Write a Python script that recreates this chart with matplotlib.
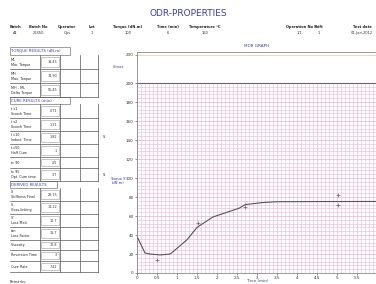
import matplotlib
matplotlib.use("Agg")
import matplotlib.pyplot as plt
from matplotlib.patches import Rectangle
import numpy as np

# ---------------- data ----------------
curve_time = [0.02, 0.2, 0.33, 0.58, 0.83, 1.0, 1.25, 1.5, 1.9, 2.54, 2.71, 3.1, 3.47, 4.5, 6.0]
curve_torque = [36.8, 21.0, 20.0, 19.0, 20.0, 26.0, 35.0, 48.0, 59.0, 68.0, 72.0, 74.0, 75.0, 75.2, 75.3]
point_time = [0.5, 1.53, 2.71, 5.03, 5.03]
point_torque = [13.7, 52.6, 69.5, 82.0, 71.6]
x_ticks = [0, 0.5, 1, 1.5, 2, 2.5, 3, 3.5, 4, 4.5, 5, 5.5]
x_tick_labels = ["0", "0.5", "1", "1.5", "2", "2.5", "3", "3.5", "4", "4.5", "5", "5.5"]
y_ticks = [0, 20, 40, 60, 80, 100, 120, 140, 160, 180, 200, 230]
limit_upper = 200
limit_top = 229.5

header_labels = ["Batch", "Batch No", "Operator", "Lot", "Torque (dN.m)", "Time (min)",
                 "Temperature °C", "Operation No", "Shift", "Test date"]
header_values = ["A1", "22450", "Ops", "1", "100", "6", "160", "1/1", "1", "01-Jan-2012"]
header_x = [15, 38, 67, 92, 128, 168, 205, 300, 319, 362]

torque_labels = [("ML", "Min. Torque"), ("MH", "Max. Torque"), ("MH - ML", "Delta Torque")]
torque_values = ["19.45", "74.90", "55.45"]
cure_labels = [("t s1", "Scorch Time"), ("t s2", "Scorch Time"), ("t c10", "Induct. Time"),
               ("t c50", "Half Cure"), ("tc 90", ""), ("tc 95", "Opt. Cure time")]
cure_values = ["0.71", "1.31", "1.82", "1", "2.5", "3.7"]
derived_labels = [("S'", "Stiffness Final"), ("S'", "Cross-linking"), ("S''", "Loss Mod."),
                  ("tan", "Loss Factor"), ("Viscosity", ""), ("Reversion Time", ""), ("Cure Rate", "")]
derived_values = ["23.15", "14.22", "10.7", "18.7", "12.8", "3", "7.42"]

BLUE = "#3a3ab0"
W, H = 376, 284
fig = plt.figure(figsize=(W / 100, H / 100), dpi=100)

ov = fig.add_axes([0, 0, 1, 1])
ov.set_xlim(0, W)
ov.set_ylim(H, 0)
ov.axis("off")

ov.text(188, 14, "ODR-PROPERTIES", color=BLUE, fontsize=6.5, ha="center", va="center")
for lab, val, x in zip(header_labels, header_values, header_x):
    ov.text(x, 27, lab, fontsize=2.6, ha="center", va="center", color="#222", fontweight="bold")
    ov.text(x, 33, val, fontsize=2.6, ha="center", va="center", color="#333")

col_lines = [40, 60, 80, 98]
tx0 = 10

def section(y0, y1, title, bar_to=70):
    ov.add_patch(Rectangle((tx0, y0), bar_to - tx0, y1 - y0, fill=False, ec="#777", lw=0.5))
    ov.text(tx0 + 1, (y0 + y1) / 2, title, fontsize=2.8, color=BLUE, va="center", ha="left")

def rows(ys, labels, values):
    for i in range(len(labels)):
        a, b = ys[i], ys[i + 1]
        ov.plot([tx0, col_lines[-1]], [b, b], color="#555", lw=0.5)
        l1, l2 = labels[i]
        if l2:
            ov.text(tx0 + 1, a + (b - a) * 0.33, l1, fontsize=2.4, va="center", color="#222")
            ov.text(tx0 + 1, a + (b - a) * 0.7, l2, fontsize=2.4, va="center", color="#222")
        else:
            ov.text(tx0 + 1, (a + b) / 2, l1, fontsize=2.4, va="center", color="#222")
        ov.add_patch(Rectangle((col_lines[0] + 1, a + 2), 18, b - a - 4, fill=False, ec="#999", lw=0.4))
        ov.text(col_lines[1] - 3, (a + b) / 2, values[i], fontsize=2.4, ha="right", va="center", color="#333")
    for x in col_lines:
        ov.plot([x, x], [ys[0], ys[-1]], color="#555", lw=0.5)

section(47, 55, "TORQUE RESULTS (dN.m)")
rows([55, 69, 83, 97], torque_labels, torque_values)
section(97, 104, "CURE RESULTS (min)")
rows([104, 118, 131, 144, 157, 168, 181], cure_labels, cure_values)
section(181, 188, "DERIVED RESULTS", bar_to=57)
rows([188, 201, 214, 227, 240, 250, 261, 272], derived_labels, derived_values)
ov.text(10, 282, "Remarks:", fontsize=2.6, color="#333", va="center")
ov.text(103, 137, "S'", fontsize=2.6, color="#222", va="center")
ov.text(103, 175, "S'", fontsize=2.6, color="#222", va="center")
ov.text(118, 67, "S'max", fontsize=2.6, color=BLUE, va="center", ha="center")
ov.text(118, 181, "Torque S'\n(dN.m)", fontsize=2.6, color=BLUE, va="center", ha="center")
ov.text(257, 46, "MDR GRAPH", fontsize=3, color=BLUE, va="center", ha="center")
ov.text(257, 281, "Time (min)", fontsize=3, color=BLUE, va="center", ha="center")

# ---------------- graph ----------------
left, right, top, bottom = 137, 377, 52, 273
ax = fig.add_axes([left / W, 1 - bottom / H, (right - left) / W, (bottom - top) / H])
ax.set_xlim(0, 6)
ax.set_ylim(0, (bottom - top) / 0.95)
ax.set_axisbelow(True)
ax.set_xticks(x_ticks)
ax.set_xticklabels(x_tick_labels)
ax.set_yticks(y_ticks)
ax.set_xticks(np.arange(0, 6.01, 0.1), minor=True)
ax.set_yticks(np.arange(0, 232, 4), minor=True)
ax.grid(which="minor", color="#ecc4e0", lw=0.5)
ax.grid(which="major", color="#e4b4d4", lw=0.5)
ax.tick_params(which="minor", length=0)
ax.tick_params(which="major", labelsize=3, length=1.5, width=0.4, pad=1, colors="#333")
ax.axhspan(limit_upper, 300, color="white", zorder=1)
ax.axhline(limit_upper, color="#666", lw=0.8, zorder=2)
ax.axhline(limit_top, color="#e8c890", lw=0.5, zorder=2)
ax.plot(curve_time, curve_torque, color="#555", lw=0.8, zorder=3)
ax.plot(point_time, point_torque, "+", color="#666", ms=3, mew=0.5, zorder=3)
for s in ax.spines.values():
    s.set_color("#888")
    s.set_linewidth(0.6)

fig.savefig("out.png", dpi=100)
